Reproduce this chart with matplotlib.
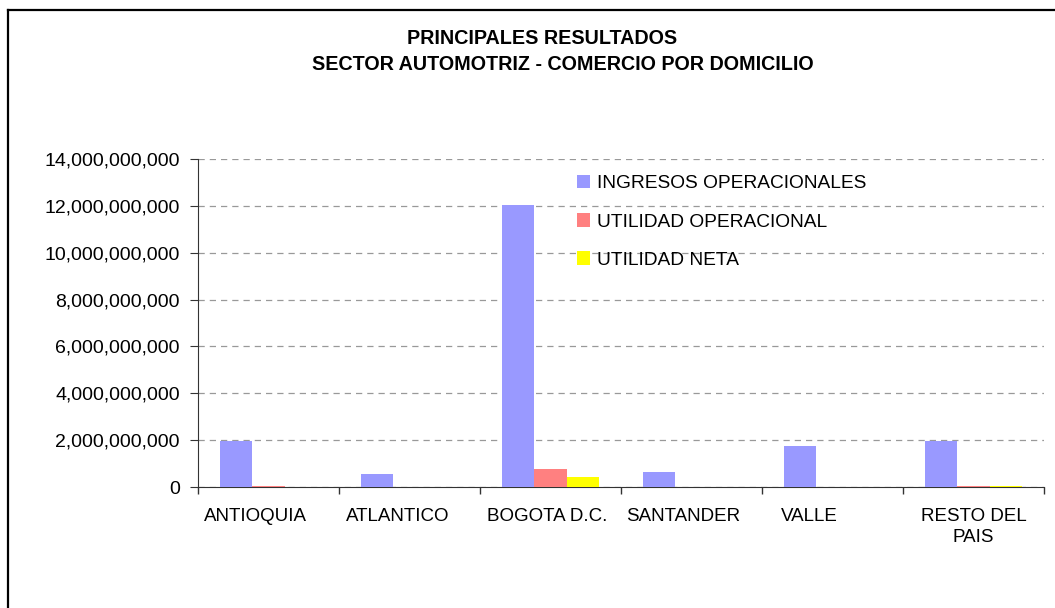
import matplotlib
matplotlib.use("Agg")
import matplotlib.pyplot as plt
import matplotlib.transforms as mtransforms
import numpy as np
from matplotlib.lines import Line2D
from matplotlib.ticker import FuncFormatter, MultipleLocator, FixedLocator

categories = ["ANTIOQUIA", "ATLANTICO", "BOGOTA D.C.", "SANTANDER", "VALLE", "RESTO DEL\nPAIS"]
series_names = ["INGRESOS OPERACIONALES", "UTILIDAD OPERACIONAL", "UTILIDAD NETA"]
ingresos = [1.96e9, 0.55e9, 12.04e9, 0.63e9, 1.76e9, 1.95e9]
util_oper = [0.06e9, 0.0, 0.76e9, 0.0, 0.0, 0.06e9]
util_neta = [0.0, 0.0, 0.43e9, 0.0, 0.0, 0.05e9]
colors = ["#9999FF", "#FF8080", "#FFFF00"]

plt.rcParams['font.family'] = ['Liberation Sans', 'DejaVu Sans']

fig = plt.figure(figsize=(10.55, 6.08), dpi=100)
ax = fig.add_axes([198/1055, 1-487/608, (1044-198)/1055, (487-159)/608])

x = np.arange(len(categories))
w = 0.23
for i, (vals, c, name) in enumerate(zip([ingresos, util_oper, util_neta], colors, series_names)):
    ax.bar(x + (i-1)*w, vals, width=w, color=c, label=name, zorder=3)

ax.set_xlim(-0.5, len(categories)-0.5)
ax.set_ylim(0, 14e9)
ax.yaxis.set_major_locator(MultipleLocator(2e9))
ax.yaxis.set_major_formatter(FuncFormatter(lambda v, p: f"{int(v):,}"))
ax.grid(axis='y', color='#999999', linestyle=(0, (5, 4)), linewidth=0.9, zorder=0)
ax.set_xticks(x)
ax.set_xticklabels(categories, fontsize=13.5, linespacing=1.3)
ax.tick_params(axis='x', length=0, pad=15)
ax.xaxis.set_minor_locator(FixedLocator(np.arange(-0.5, len(categories), 1)))
ax.tick_params(axis='x', which='minor', length=5, width=1, color='#333333')
ax.tick_params(axis='y', labelsize=14, length=6, pad=7, color='#333333')
for s in ['top', 'right']:
    ax.spines[s].set_visible(False)
ax.spines['left'].set_color('#333333')
ax.spines['bottom'].set_color('#333333')

# small horizontal nudges of the category labels (as rendered in the original)
label_nudge_px = [-13, -12, -3, -8, -23, 0]
for lab, dx in zip(ax.get_xticklabels(), label_nudge_px):
    lab.set_transform(lab.get_transform() + mtransforms.ScaledTranslation(dx/100, 0, fig.dpi_scale_trans))

leg = ax.legend(loc='upper left', bbox_to_anchor=((577-198)/846, (487-175)/328), frameon=False,
                fontsize=13.8, handlelength=0.7, handleheight=0.7, handletextpad=0.35,
                labelspacing=1.08, borderpad=0, borderaxespad=0)

fig.text(542/1055, 1-38/608, "PRINCIPALES RESULTADOS", ha='center', va='center',
         fontsize=14.2, fontweight='bold')
fig.text(563/1055, 1-64/608, "SECTOR AUTOMOTRIZ - COMERCIO POR DOMICILIO", ha='center', va='center',
         fontsize=14.2, fontweight='bold')

# chart-area frame (top and left edges visible in the original crop)
fy = 1 - 10/608
fx = 7.5/1055
fig.lines.append(Line2D([fx, 1.0], [fy, fy], transform=fig.transFigure, color='black', linewidth=1.6))
fig.lines.append(Line2D([fx, fx], [0.0, fy], transform=fig.transFigure, color='black', linewidth=1.6))

fig.savefig("out.png", dpi=100)
